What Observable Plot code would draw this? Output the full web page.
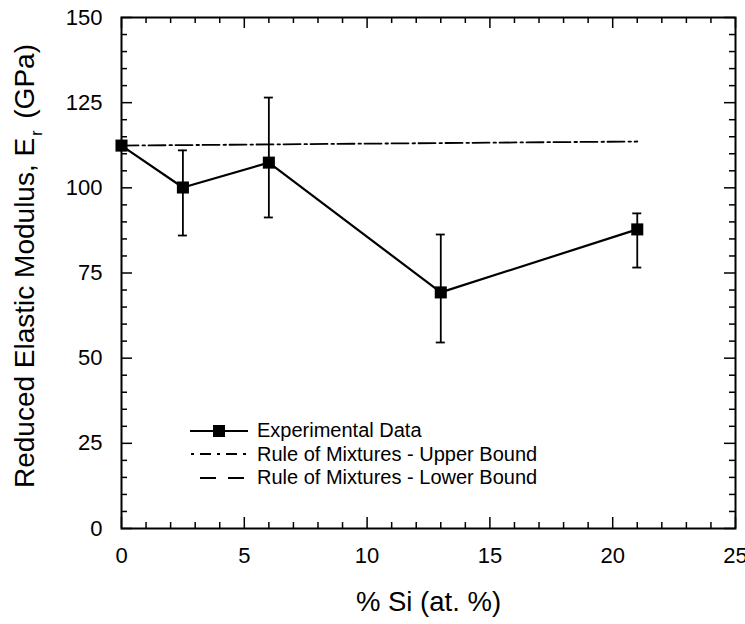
<!DOCTYPE html>
<html><head><meta charset="utf-8">
<script src="https://cdn.jsdelivr.net/npm/d3@7"></script>
<script src="https://cdn.jsdelivr.net/npm/@observablehq/plot@0.6"></script>
<style>
body{margin:0;background:#fff;font-family:"Liberation Sans",Arial,sans-serif;}
#wrap{position:relative;width:745px;height:624px;overflow:hidden;}
#ylab{position:absolute;left:-209px;top:244px;width:480px;text-align:center;font-size:28px;transform:rotate(-90deg);transform-origin:center;white-space:nowrap;line-height:32px;}
#ylab sub{font-size:16px;vertical-align:-8px;margin-left:2px;margin-right:4px;}
#legend{position:absolute;left:188px;top:419px;font-size:20px;}
.row{display:flex;align-items:center;height:23.5px;}
.row svg{width:64px;height:20px;margin-right:5px;}
</style></head>
<body><div id="wrap"><div id="ylab"></div><div id="legend"></div></div>
<script>
// ---- data ----
const siPct = [0, 2.5, 6, 13, 21];
const modulus = [112.4, 100.1, 107.4, 69.3, 87.8];
const errLow = [null, 86.0, 91.3, 54.6, 76.6];
const errHigh = [null, 111.0, 126.5, 86.3, 92.5];
const upperX = [0, 21];
const upperY = [112.4, 113.6];
const xTicks = [0, 5, 10, 15, 20, 25];
const yTicks = [0, 25, 50, 75, 100, 125, 150];
const xMinor = d3.range(0, 26, 1);
const yMinor = d3.range(0, 151, 5);
const legendLabels = ["Experimental Data", "Rule of Mixtures - Upper Bound", "Rule of Mixtures - Lower Bound"];
const xTitle = "% Si (at. %)";

// ---- layout ----
const width = 745, height = 624;
const mL = 121, mR = 10, mT = 17, mB = 96;
const pw = width - mL - mR, ph = height - mT - mB;
const xDom = [0, 25], yDom = [0, 150];
const pxX = (xDom[1] - xDom[0]) / pw, pxY = (yDom[1] - yDom[0]) / ph;
const majLen = 11, minLen = 6;

const pts = siPct.map((x, i) => ({x, y: modulus[i], lo: errLow[i], hi: errHigh[i]}));
const errs = pts.filter(d => d.lo != null);
const upper = upperX.map((x, i) => ({x, y: upperY[i]}));

const xm = xMinor.map(v => ({v, len: (xTicks.includes(v) ? majLen : minLen)}));
const ym = yMinor.map(v => ({v, len: (yTicks.includes(v) ? majLen : minLen)}));
const cap = 4.5 * pxX;

const chart = Plot.plot({
  width, height, marginLeft: mL, marginRight: mR, marginTop: mT, marginBottom: mB,
  style: {fontFamily: '"Liberation Sans", Arial, sans-serif', color: "black", background: "white"},
  x: {domain: xDom},
  y: {domain: yDom},
  marks: [
    Plot.axisX(xTicks, {tickSize: 0, tickPadding: 19, fontSize: 22, label: null}),
    Plot.axisY(yTicks, {tickSize: 0, tickPadding: 19, fontSize: 22, label: null}),
    // inward ticks, bottom & top
    Plot.ruleX(xm, {x: "v", y1: yDom[0], y2: d => yDom[0] + d.len * pxY, stroke: "black", strokeWidth: 1.5}),
    Plot.ruleX(xm, {x: "v", y1: yDom[1], y2: d => yDom[1] - d.len * pxY, stroke: "black", strokeWidth: 1.5}),
    // inward ticks, left & right
    Plot.ruleY(ym, {y: "v", x1: xDom[0], x2: d => xDom[0] + d.len * pxX, stroke: "black", strokeWidth: 1.5}),
    Plot.ruleY(ym, {y: "v", x1: xDom[1], x2: d => xDom[1] - d.len * pxX, stroke: "black", strokeWidth: 1.5}),
    Plot.frame({stroke: "black", strokeWidth: 2}),
    // upper bound
    Plot.line(upper, {x: "x", y: "y", stroke: "black", strokeWidth: 1.8, strokeDasharray: "17,4,2.5,3.5"}),
    // error bars
    Plot.ruleX(errs, {x: "x", y1: "lo", y2: "hi", stroke: "black", strokeWidth: 1.8}),
    Plot.ruleY(errs, {y: "lo", x1: d => d.x - cap, x2: d => d.x + cap, stroke: "black", strokeWidth: 1.8}),
    Plot.ruleY(errs, {y: "hi", x1: d => d.x - cap, x2: d => d.x + cap, stroke: "black", strokeWidth: 1.8}),
    // experimental
    Plot.line(pts, {x: "x", y: "y", stroke: "black", strokeWidth: 2.2}),
    Plot.dot(pts, {x: "x", y: "y", symbol: "square", r: 6.8, fill: "black", stroke: "none"}),
    Plot.text([xTitle], {frameAnchor: "bottom", text: d => d, dy: 82, fontSize: 27.5})
  ]
});
const wrap = document.getElementById("wrap");
wrap.insertBefore(chart, wrap.firstChild);

document.getElementById("ylab").innerHTML = "Reduced Elastic Modulus, E<sub>r</sub> (GPa)";

const samples = [
  '<line x1="2" y1="10" x2="60" y2="10" stroke="black" stroke-width="2"/><rect x="25" y="4" width="12" height="12" fill="black"/>',
  '<line x1="3" y1="10" x2="60" y2="10" stroke="black" stroke-width="1.8" stroke-dasharray="3,6,11,6"/>',
  '<line x1="12" y1="10" x2="60" y2="10" stroke="black" stroke-width="1.8" stroke-dasharray="16,12"/>'
];
document.getElementById("legend").innerHTML = legendLabels.map((t, i) =>
  `<div class="row"><svg viewBox="0 0 64 20">${samples[i]}</svg><span>${t}</span></div>`).join("");
</script>
</body></html>
